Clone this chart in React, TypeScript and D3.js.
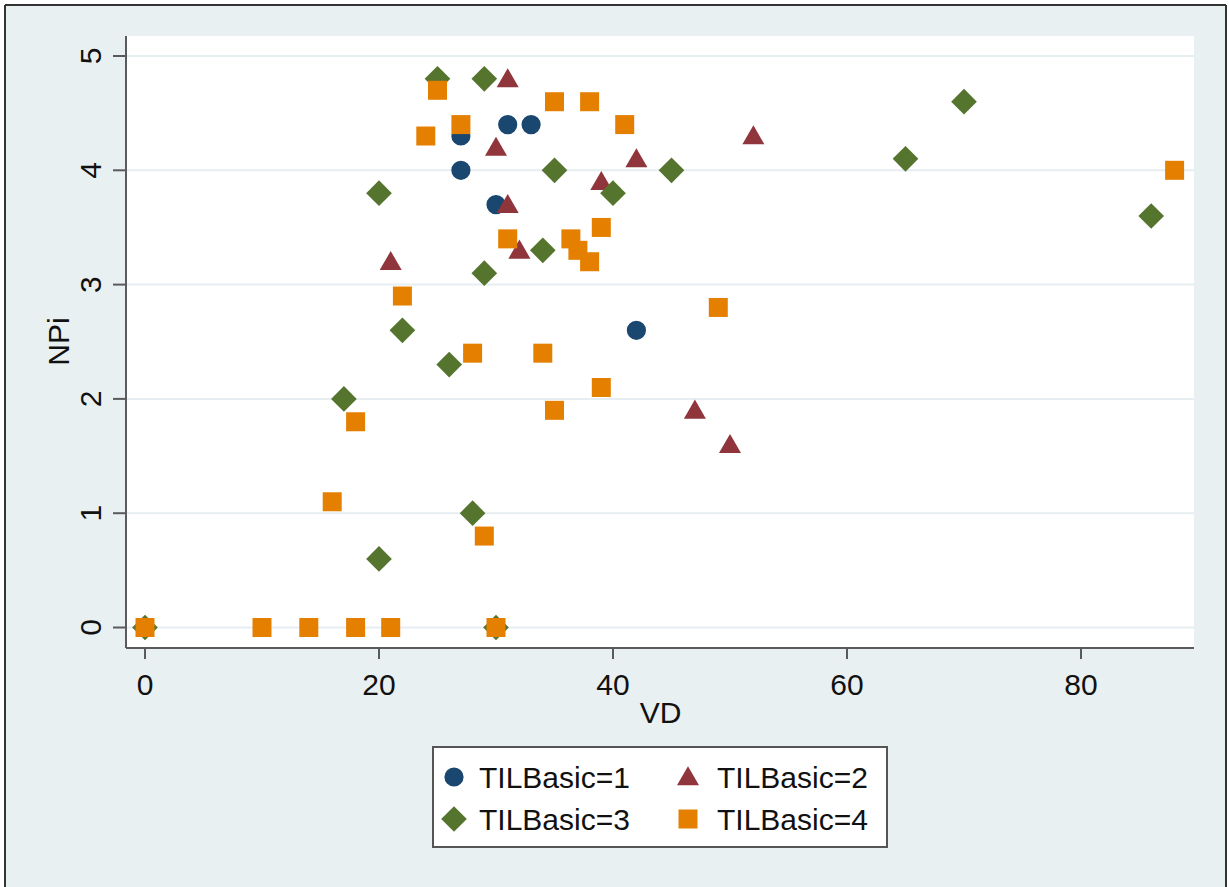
import React from 'react';
import * as d3 from 'd3';

// VD / NPi values per TILBasic group
const vd1 = [27, 27, 31, 33, 30, 42];
const npi1 = [4.3, 4.0, 4.4, 4.4, 3.7, 2.6];

const vd2 = [31, 30, 42, 39, 31, 32, 21, 52, 47, 50];
const npi2 = [4.8, 4.2, 4.1, 3.9, 3.7, 3.3, 3.2, 4.3, 1.9, 1.6];

const vd3 = [25, 29, 35, 45, 40, 20, 34, 29, 22, 26, 17, 28, 20, 65, 70, 86, 0, 30];
const npi3 = [4.8, 4.8, 4.0, 4.0, 3.8, 3.8, 3.3, 3.1, 2.6, 2.3, 2.0, 1.0, 0.6, 4.1, 4.6, 3.6, 0, 0];

const vd4 = [25, 27, 24, 35, 38, 41, 31, 36.4, 37, 38, 39, 22, 28, 34, 39, 35, 18, 16, 29, 49, 88, 0, 10, 14, 18, 21, 30];
const npi4 = [4.7, 4.4, 4.3, 4.6, 4.6, 4.4, 3.4, 3.4, 3.3, 3.2, 3.5, 2.9, 2.4, 2.4, 2.1, 1.9, 1.8, 1.1, 0.8, 2.8, 4.0, 0, 0, 0, 0, 0, 0];

const seriesNames = ['TILBasic=1', 'TILBasic=2', 'TILBasic=3', 'TILBasic=4'];
const xTicks = [0, 20, 40, 60, 80];
const yTicks = [0, 1, 2, 3, 4, 5];

const W = 1229;
const H = 887;
const FONT = '"Liberation Sans", Arial, sans-serif';
const BG = '#e9f0f2';
const GRID = '#e6eef1';
const AXIS = '#5a5a5a';

// plot region
const left = 127;
const right = 1194;
const top = 36;
const bottom = 647;

const colors = ['#1a476f', '#90353b', '#55752f', '#e57f00'];
// diamond = square turned 45 degrees (Stata style), not d3's tall diamond
const shapes = [d3.symbolCircle, d3.symbolTriangle, d3.symbolSquare, d3.symbolSquare];
const sizes = [290, 210, 330, 361];
const rot = [0, 0, 45, 0];

const x = d3.scaleLinear().domain([0, 80]).range([145, 1081]);
const y = d3.scaleLinear().domain([0, 5]).range([627.5, 56]);

const groups = [
  { vd: vd1, npi: npi1 },
  { vd: vd2, npi: npi2 },
  { vd: vd3, npi: npi3 },
  { vd: vd4, npi: npi4 },
];

const symbolPath = (i: number) => d3.symbol().type(shapes[i]).size(sizes[i])() as string;

// triangle centroid sits lower than bbox center; nudge so it looks centered
const dyFor = (i: number) => (i === 1 ? 2 : 0);
const place = (i: number, cx: number, cy: number) =>
  `translate(${cx},${cy + dyFor(i)}) rotate(${rot[i]})`;

const App: React.FC = () => {
  const legendItems = [
    { i: 0, mx: 454, tx: 479, cy: 777, by: 788 },
    { i: 1, mx: 688, tx: 717, cy: 777, by: 788 },
    { i: 2, mx: 454, tx: 479, cy: 819, by: 830 },
    { i: 3, mx: 688, tx: 717, cy: 819, by: 830 },
  ];

  return (
    <div style={{ position: 'absolute', left: 0, top: 0 }}>
      <svg width={W} height={H} style={{ display: 'block', fontFamily: FONT }}>
        <rect x={0} y={0} width={W} height={H} fill="#ffffff" />
        <rect x={5} y={5} width={1221} height={H} fill={BG} />
        <line x1={5} y1={5} x2={5} y2={H} stroke="#333" strokeWidth={2} />
        <line x1={5} y1={5} x2={1226} y2={5} stroke="#333" strokeWidth={2} />
        <line x1={1226} y1={5} x2={1226} y2={H} stroke="#333" strokeWidth={2} />

        {/* plot region */}
        <rect x={left} y={top} width={right - left} height={bottom - top} fill="#ffffff" />
        {yTicks.map((t) => (
          <line key={'g' + t} x1={left} x2={right} y1={y(t)} y2={y(t)} stroke={GRID} strokeWidth={2} />
        ))}

        {/* axes */}
        <line x1={126} y1={top} x2={126} y2={bottom + 1} stroke={AXIS} strokeWidth={2} />
        <line x1={126} y1={bottom + 1} x2={right} y2={bottom + 1} stroke={AXIS} strokeWidth={2} />
        {yTicks.map((t) => (
          <g key={'yt' + t}>
            <line x1={113} x2={126} y1={y(t)} y2={y(t)} stroke={AXIS} strokeWidth={2} />
            <text
              transform={`translate(101,${y(t)}) rotate(-90)`}
              textAnchor="middle"
              fontSize={30}
              fill="#111"
            >
              {t}
            </text>
          </g>
        ))}
        {xTicks.map((t) => (
          <g key={'xt' + t}>
            <line x1={x(t)} x2={x(t)} y1={bottom + 1} y2={659} stroke={AXIS} strokeWidth={2} />
            <text x={x(t)} y={695} textAnchor="middle" fontSize={30} fill="#111">
              {t}
            </text>
          </g>
        ))}
        <text x={(left + right) / 2} y={723} textAnchor="middle" fontSize={30} fill="#111">
          VD
        </text>
        <text
          transform={`translate(68.5,${(top + bottom) / 2}) rotate(-90)`}
          textAnchor="middle"
          fontSize={30}
          fill="#111"
        >
          NPi
        </text>

        {/* markers */}
        {groups.map((g, i) => (
          <g key={'s' + i}>
            {g.vd.map((v, k) => (
              <path key={k} d={symbolPath(i)} transform={place(i, x(v), y(g.npi[k]))} fill={colors[i]} />
            ))}
          </g>
        ))}

        {/* legend */}
        <rect x={433} y={747} width={454} height={100} fill="#ffffff" stroke="#555" strokeWidth={2} />
        {legendItems.map((it) => (
          <g key={'l' + it.i}>
            <path d={symbolPath(it.i)} transform={place(it.i, it.mx, it.cy)} fill={colors[it.i]} />
            <text x={it.tx} y={it.by} fontSize={30} fill="#111">
              {seriesNames[it.i]}
            </text>
          </g>
        ))}
      </svg>
    </div>
  );
};

export default App;
